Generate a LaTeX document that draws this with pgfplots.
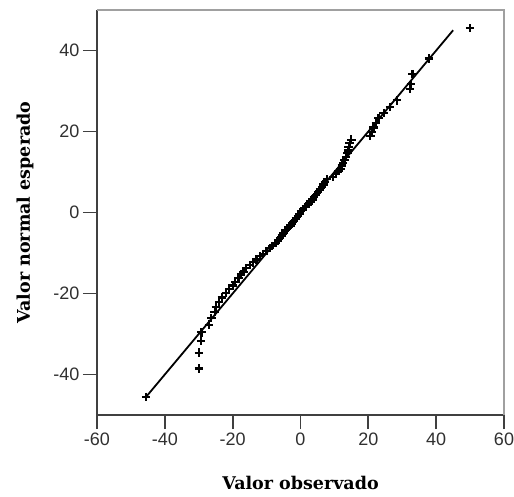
\documentclass[border=0pt]{standalone}
\usepackage{pgfplots}
\pgfplotsset{compat=1.18}
\usepackage{fontspec}
\setmainfont{Liberation Sans}
\newfontfamily\labfont{DejaVu Serif}
\definecolor{axgray}{HTML}{404040}
\definecolor{boxgray}{HTML}{A0A0A0}
\definecolor{tickcol}{HTML}{303030}
\pgfplotstableread{
x y
-45.5 -45.5
-30.0 -38.5
-30.0 -34.6
-29.3 -31.8
-29.2 -29.6
-27.0 -27.7
-26.3 -26.1
-25.3 -24.6
-25.0 -23.3
-24.0 -22.1
-23.2 -21.0
-22.0 -19.9
-21.0 -18.9
-20.0 -18.0
-19.2 -17.1
-18.3 -16.2
-17.5 -15.3
-16.8 -14.6
-16.0 -13.8
-15.0 -13.0
-14.0 -12.3
-13.0 -11.6
-12.0 -10.8
-11.0 -10.2
-10.0 -9.5
-9.0 -8.8
-8.3 -8.2
-7.4 -7.5
-6.6 -6.9
-6.0 -6.3
-5.5 -5.7
-5.0 -5.0
-4.4 -4.4
-3.6 -3.8
-3.0 -3.2
-2.5 -2.7
-2.0 -2.1
-1.4 -1.5
-0.8 -0.9
-0.3 -0.3
0.2 0.3
0.8 0.9
1.6 1.5
2.3 2.1
3.0 2.7
3.5 3.2
4.0 3.8
4.6 4.4
5.2 5.0
5.8 5.7
6.3 6.3
6.8 6.9
7.2 7.5
7.8 8.2
9.5 8.8
10.5 9.5
11.2 10.2
11.8 10.8
12.2 11.6
12.6 12.3
13.0 13.0
13.4 13.8
13.8 14.6
14.0 15.3
14.2 16.2
14.5 17.1
15.0 18.0
20.6 18.9
21.0 19.9
21.5 21.0
22.2 22.1
23.0 23.3
24.5 24.6
26.3 26.1
28.5 27.7
32.3 30.5
32.6 31.8
33.0 34.2
37.8 38.0
50.0 45.5
}\qq
\begin{document}
\begin{tikzpicture}
\begin{axis}[
  scale only axis,
  width=407pt, height=405pt,
  xmin=-60, xmax=60, ymin=-50, ymax=50,
  xtick={-60,-40,...,60},
  ytick={-40,-20,...,40},
  axis x line*=bottom, axis y line*=left,
  axis line style={axgray, line width=1.8pt},
  tick align=outside,
  major tick length=14pt,
  tick style={axgray, line width=1.8pt},
  tick label style={font=\fontsize{18}{18}\selectfont, text=tickcol},
  /pgf/number format/assume math mode=true,
  xlabel={Valor observado},
  ylabel={Valor normal esperado},
  x label style={at={(axis description cs:0.5,-0.168)}, anchor=center, font=\labfont\bfseries\fontsize{17.5}{17.5}\selectfont},
  y label style={at={(axis description cs:-0.177,0.5)}, anchor=center, rotate=0, font=\labfont\bfseries\fontsize{17.5}{17.5}\selectfont},
  clip=false,
]
\draw[boxgray, line width=1.2pt] (rel axis cs:0,1) -- (rel axis cs:1,1) -- (rel axis cs:1,0);
\addplot[black, line width=1.8pt, no marks] coordinates {(-45.5,-45.5) (45,45)};
\addplot[only marks, mark=+, mark size=4.2pt, mark options={line width=2.2pt, black}] table[x=x,y=y] {\qq};
\end{axis}
\pgfresetboundingbox
\useasboundingbox (-97pt,-81pt) rectangle (417pt,415pt);
\end{tikzpicture}
\end{document}
